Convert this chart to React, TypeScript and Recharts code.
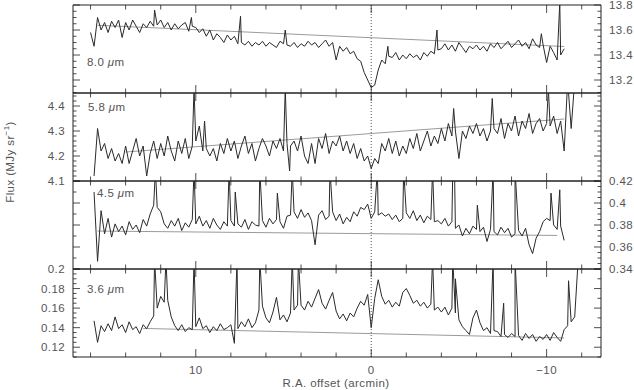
import React from 'react';
import { LineChart, Line, XAxis, YAxis, ReferenceLine } from 'recharts';

const FONT = '"Liberation Sans", Arial, sans-serif';
const INK = '#222';
const TXT = '#555';

// R.A. offset grid (arcmin), 16.0 down to -11.8
const offsets = [
  16.0, 15.8, 15.6, 15.4, 15.2, 15.0, 14.8, 14.6, 14.4, 14.2,
  14.0, 13.8, 13.6, 13.4, 13.2, 13.0, 12.8, 12.6, 12.4, 12.2,
  12.0, 11.8, 11.6, 11.4, 11.2, 11.0, 10.8, 10.6, 10.4, 10.2,
  10.0, 9.8, 9.6, 9.4, 9.2, 9.0, 8.8, 8.6, 8.4, 8.2,
  8.0, 7.8, 7.6, 7.4, 7.2, 7.0, 6.8, 6.6, 6.4, 6.2,
  6.0, 5.8, 5.6, 5.4, 5.2, 5.0, 4.8, 4.6, 4.4, 4.2,
  4.0, 3.8, 3.6, 3.4, 3.2, 3.0, 2.8, 2.6, 2.4, 2.2,
  2.0, 1.8, 1.6, 1.4, 1.2, 1.0, 0.8, 0.6, 0.4, 0.2,
  0.0, -0.2, -0.4, -0.6, -0.8, -1.0, -1.2, -1.4, -1.6, -1.8,
  -2.0, -2.2, -2.4, -2.6, -2.8, -3.0, -3.2, -3.4, -3.6, -3.8,
  -4.0, -4.2, -4.4, -4.6, -4.8, -5.0, -5.2, -5.4, -5.6, -5.8,
  -6.0, -6.2, -6.4, -6.6, -6.8, -7.0, -7.2, -7.4, -7.6, -7.8,
  -8.0, -8.2, -8.4, -8.6, -8.8, -9.0, -9.2, -9.4, -9.6, -9.8,
  -10.0, -10.2, -10.4, -10.6, -10.8, -11.0, -11.2, -11.4, -11.6, -11.8,
];

// 8.0 um
const flux80 = [
  13.58, 13.47, 13.70, 13.60, 13.66, 13.58, 13.67, 13.62, 13.68, 13.54,
  13.66, 13.60, 13.68, 13.63, 13.58, 13.65, 13.62, 13.67, 13.63, 13.64,
  13.68, 13.62, 13.66, 13.60, 13.65, 13.61, 13.64, 13.66, 13.59, 13.63,
  13.62, 13.58, 13.61, 13.55, 13.60, 13.52, 13.57, 13.54, 13.50, 13.56,
  13.52, 13.55, 13.49, 13.50, 13.48, 13.51, 13.47, 13.50, 13.48, 13.51,
  13.47, 13.50, 13.48, 13.46, 13.51, 13.49, 13.48, 13.47, 13.50, 13.46,
  13.49, 13.47, 13.51, 13.48, 13.50, 13.46, 13.49, 13.52, 13.47, 13.50,
  13.36, 13.47, 13.43, 13.46, 13.41, 13.43, 13.37, 13.35, 13.26, 13.20,
  13.14, 13.16, 13.28, 13.36, 13.33, 13.39, 13.38, 13.42, 13.36, 13.40,
  13.37, 13.41, 13.38, 13.40, 13.36, 13.42, 13.39, 13.43, 13.41, 13.44,
  13.45, 13.49, 13.44, 13.48, 13.43, 13.50, 13.46, 13.42, 13.47, 13.45,
  13.48, 13.44, 13.47, 13.43, 13.49, 13.46, 13.50, 13.45, 13.48, 13.51,
  13.46, 13.49, 13.52, 13.47, 13.50, 13.45, 13.53, 13.48, 13.46, 13.48,
  13.34, 13.47, 13.42, 13.36, 13.40, 13.45, null, null, null, null,
];
const spikes80 = [
  [12.35, 13.76], [10.25, 13.7], [7.45, 13.71], [4.9, 13.6], [-0.95, 13.47],
  [-3.75, 13.6], [-9.7, 13.57], [-10.75, 13.82],
];

// 5.8 um
const flux58 = [
  null, 4.12, 4.31, 4.22, 4.25, 4.19, 4.23, 4.18, 4.21, 4.17,
  4.24, 4.17, 4.22, 4.27, 4.20, 4.24, 4.12, 4.21, 4.26, 4.19,
  4.25, 4.20, 4.28, 4.22, 4.18, 4.26, 4.21, 4.27, 4.19, 4.24,
  4.26, 4.32, 4.22, 4.23, 4.20, 4.23, 4.18, 4.25, 4.21, 4.27,
  4.22, 4.26, 4.19, 4.24, 4.28, 4.21, 4.25, 4.18, 4.23, 4.27,
  4.24, 4.20, 4.26, 4.23, 4.27, 4.22, 4.25, 4.24, 4.26, 4.22,
  4.28, 4.20, 4.17, 4.25, 4.17, 4.27, 4.23, 4.29, 4.21, 4.26,
  4.24, 4.28, 4.22, 4.26, 4.21, 4.25, 4.19, 4.23, 4.18, 4.20,
  4.15, 4.19, 4.17, 4.25, 4.22, 4.27, 4.21, 4.26, 4.20, 4.24,
  4.21, 4.27, 4.23, 4.29, 4.22, 4.26, 4.30, 4.24, 4.28, 4.25,
  4.31, 4.26, 4.33, 4.28, 4.30, 4.19, 4.30, 4.27, 4.32, 4.29,
  4.33, 4.28, 4.31, 4.26, 4.30, 4.31, 4.29, 4.35, 4.27, 4.33,
  4.30, 4.36, 4.28, 4.34, 4.31, 4.37, 4.29, 4.33, 4.35, 4.30,
  4.33, 4.32, 4.36, 4.29, 4.34, 4.22, 4.50, 4.31, 4.50, 4.52,
];
const spikes58 = [
  [10.1, 4.47], [9.5, 4.34], [4.9, 4.47], [4.65, 4.14], [-4.7, 4.39],
  [-6.9, 4.43], [-10.1, 4.47],
];

// 4.5 um
const flux45 = [
  null, 0.410, 0.347, 0.393, 0.372, 0.386, 0.369, 0.381, 0.374, 0.379,
  0.371, 0.383, 0.376, 0.380, 0.373, 0.385, 0.379, 0.390, 0.398, 0.396,
  0.392, 0.381, 0.377, 0.384, 0.379, 0.386, 0.375, 0.382, 0.378, 0.385,
  0.381, 0.388, 0.379, 0.384, 0.377, 0.386, 0.380, 0.376, 0.383, 0.379,
  0.384, 0.379, 0.381, 0.378, 0.385, 0.376, 0.383, 0.380, 0.379, 0.384,
  0.378, 0.386, 0.381, 0.385, 0.383, 0.377, 0.388, 0.389, 0.392, 0.386,
  0.394, 0.387, 0.391, 0.384, 0.362, 0.389, 0.393, 0.385, 0.388, 0.392,
  0.384, 0.390, 0.381, 0.387, 0.383, 0.392, 0.388, 0.396, 0.394, 0.399,
  0.386, 0.392, 0.389, 0.391, 0.388, 0.390, 0.385, 0.389, 0.383, 0.386,
  0.391, 0.386, 0.393, 0.384, 0.389, 0.382, 0.388, 0.385, 0.383, 0.384,
  0.381, 0.386, 0.379, 0.383, 0.377, 0.380, 0.370, 0.377, 0.372, 0.379,
  0.376, 0.374, 0.378, 0.365, 0.376, 0.374, 0.371, 0.378, 0.373, 0.377,
  0.369, 0.372, 0.375, 0.370, 0.377, 0.362, 0.354, 0.368, 0.374, 0.383,
  0.386, 0.384, 0.380, 0.376, 0.379, 0.366, null, null, null, null,
];
const spikes45 = [
  [12.3, 0.43], [10.1, 0.43], [8.1, 0.43], [7.75, 0.41], [6.35, 0.43],
  [5.35, 0.409], [4.5, 0.43], [2.35, 0.43], [-0.35, 0.43], [-1.85, 0.43],
  [-3.5, 0.43], [-4.65, 0.43], [-4.75, 0.43], [-6.05, 0.398], [-6.95, 0.43],
  [-8.2, 0.43], [-10.25, 0.409], [-10.75, 0.412],
];

// 3.6 um
const flux36 = [
  null, 0.147, 0.125, 0.142, 0.136, 0.144, 0.137, 0.151, 0.139, 0.143,
  0.135, 0.146, 0.138, 0.141, 0.134, 0.143, 0.139, 0.146, 0.152, 0.160,
  0.172, 0.166, 0.168, 0.151, 0.142, 0.137, 0.143, 0.136, 0.140, 0.138,
  0.141, 0.150, 0.139, 0.142, 0.135, 0.141, 0.137, 0.144, 0.138, 0.140,
  0.143, 0.124, 0.139, 0.146, 0.141, 0.149, 0.140, 0.145, 0.158, 0.162,
  0.150, 0.145, 0.156, 0.171, 0.148, 0.153, 0.146, 0.155, 0.158, 0.163,
  0.163, 0.158, 0.167, 0.161, 0.170, 0.179, 0.165, 0.159, 0.168, 0.176,
  0.157, 0.149, 0.154, 0.147, 0.155, 0.151, 0.160, 0.167, 0.163, 0.174,
  0.140, 0.170, 0.189, 0.172, 0.164, 0.168, 0.161, 0.166, 0.162, 0.176,
  0.180, 0.173, 0.165, 0.168, 0.162, 0.166, 0.160, 0.164, 0.158, 0.161,
  0.156, 0.161, 0.153, 0.160, 0.155, 0.148, 0.141, 0.137, 0.133, 0.150,
  0.158, 0.145, 0.137, 0.140, 0.134, 0.137, 0.136, 0.131, 0.133, 0.130,
  0.134, 0.131, 0.132, 0.127, 0.134, 0.129, 0.133, 0.126, 0.131, 0.128,
  0.133, 0.127, 0.135, 0.130, 0.126, 0.138, 0.142, 0.146, 0.151, 0.210,
];
const spikes36 = [
  [12.35, 0.21], [11.7, 0.21], [10.1, 0.21], [7.65, 0.21], [6.35, 0.21],
  [4.5, 0.21], [4.15, 0.21], [-3.5, 0.21], [-4.65, 0.21], [-4.8, 0.19],
  [-6.95, 0.21], [-7.55, 0.165], [-8.2, 0.21], [-11.25, 0.188],
];

// fitted background lines: [start offset, end offset] and [start flux, end flux]
const base80 = { o: [15.6, -11.0], v: [13.638, 13.468] };
const base58 = { o: [14.0, -11.0], v: [4.216, 4.348] };
const base45 = { o: [15.6, -10.6], v: [0.3745, 0.3705] };
const base36 = { o: [13.0, -11.0], v: [0.1392, 0.1295] };

const raTicks = [16, 14, 12, 10, 8, 6, 4, 2, 0, -2, -4, -6, -8, -10, -12];
const raLabelled = [10, 0, -10];

const ticks80 = [13.2, 13.4, 13.6, 13.8];
const ticks58 = [4.1, 4.2, 4.3, 4.4];
const ticks45 = [0.34, 0.36, 0.38, 0.4, 0.42];
const ticks36 = [0.12, 0.14, 0.16, 0.18, 0.2];

const steps = (lo: number, hi: number, st: number) =>
  Array.from({ length: Math.round((hi - lo) / st) + 1 }, (_, i) => +(lo + i * st).toFixed(4));

const near = (arr: number[], v: number) => arr.find((m) => Math.abs(m - v) < 1e-7);

const txtStyle = { fontFamily: FONT, fontSize: 11.5, fill: TXT, letterSpacing: 0.4 };

function yTick(side: 'left' | 'right', majors: number[], labelled: boolean) {
  return (p: any) => {
    const { x, y, payload } = p;
    const m = near(majors, payload.value);
    const d = side === 'left' ? 1 : -1;
    return (
      <g>
        <line x1={x} x2={x + d * (m !== undefined ? 7 : 3.5)} y1={y} y2={y} stroke={INK} strokeWidth={0.8} />
        {labelled && m !== undefined && (
          <text x={x - d * 8} y={y} dy="0.36em" textAnchor={side === 'left' ? 'end' : 'start'} style={txtStyle}>
            {String(m)}
          </text>
        )}
      </g>
    );
  };
}

function xTick(side: 'top' | 'bottom', labelled: boolean) {
  return (p: any) => {
    const { x, y, payload } = p;
    const v = payload.value;
    const major = v % 10 === 0;
    const d = side === 'top' ? 1 : -1;
    return (
      <g>
        <line x1={x} x2={x} y1={y} y2={y + d * (major ? 8 : 4.5)} stroke={INK} strokeWidth={0.8} />
        {labelled && raLabelled.includes(v) && (
          <text x={x} y={y + 17} textAnchor="middle" style={txtStyle}>
            {v < 0 ? '\u2212' + Math.abs(v) : String(v)}
          </text>
        )}
      </g>
    );
  };
}

type PanelProps = {
  top: number;
  values: (number | null)[];
  spikes: number[][];
  base: { o: number[]; v: number[] };
  domain: [number, number];
  majors: number[];
  minorLeft: number[];
  minorRight: number[];
  labelSide: 'left' | 'right';
  last?: boolean;
};

const W = 634;
const PLOT_H = 88;
const PAD = 10;
const PLOT_L = 73;
const PLOT_R = 601;

function Panel({ top, values, spikes, base, domain, majors, minorLeft, minorRight, labelSide, last }: PanelProps) {
  const data = [
    ...offsets.map((o, i) => ({ o, v: values[i] })),
    ...spikes.map(([o, v]) => ({ o, v })),
  ].sort((a, b) => b.o - a.o);
  const baseData = base.o.map((o, i) => ({ o, b: base.v[i] }));
  const padB = last ? 26 : PAD;
  // every axis is 1px thick, so margins are one pixel short of the plot edges
  return (
    <div style={{ position: 'absolute', left: 0, top: top - PAD }}>
      <LineChart
        width={W}
        height={PLOT_H + PAD + padB}
        data={data}
        margin={{ top: PAD - 1, bottom: padB - 1, left: PLOT_L - 1, right: W - PLOT_R - 1 }}
      >
        <XAxis
          xAxisId="b"
          dataKey="o"
          type="number"
          orientation="bottom"
          domain={[-13.1, 17.0]}
          reversed
          allowDataOverflow
          ticks={raTicks}
          interval={0}
          height={1}
          tickSize={0}
          tickMargin={0}
          tickLine={false}
          axisLine={{ stroke: INK }}
          tick={xTick('bottom', !!last)}
        />
        <XAxis
          xAxisId="t"
          dataKey="o"
          type="number"
          orientation="top"
          domain={[-13.1, 17.0]}
          reversed
          allowDataOverflow
          ticks={raTicks}
          interval={0}
          height={1}
          tickSize={0}
          tickMargin={0}
          tickLine={false}
          axisLine={{ stroke: INK }}
          tick={xTick('top', false)}
        />
        <YAxis
          yAxisId="l"
          orientation="left"
          type="number"
          domain={domain}
          allowDataOverflow
          ticks={minorLeft}
          interval={0}
          width={1}
          tickSize={0}
          tickMargin={0}
          tickLine={false}
          axisLine={{ stroke: INK }}
          tick={yTick('left', majors, labelSide === 'left')}
        />
        <YAxis
          yAxisId="r"
          orientation="right"
          type="number"
          domain={domain}
          allowDataOverflow
          ticks={minorRight}
          interval={0}
          width={1}
          tickSize={0}
          tickMargin={0}
          tickLine={false}
          axisLine={{ stroke: INK }}
          tick={yTick('right', majors, labelSide === 'right')}
        />
        <ReferenceLine xAxisId="b" yAxisId="l" x={0} stroke={INK} strokeWidth={0.8} strokeDasharray="1 2" />
        <Line
          xAxisId="b"
          yAxisId="l"
          data={baseData}
          dataKey="b"
          stroke="#9a9a9a"
          strokeWidth={1}
          dot={false}
          isAnimationActive={false}
        />
        <Line
          xAxisId="b"
          yAxisId="l"
          dataKey="v"
          stroke="#2a2a2a"
          strokeWidth={1}
          dot={false}
          isAnimationActive={false}
        />
      </LineChart>
    </div>
  );
}

export default function App() {
  return (
    <div style={{ position: 'absolute', left: 0, top: 0, width: W, height: 390, background: '#fff' }}>
      <Panel
        top={5}
        values={flux80}
        spikes={spikes80}
        base={base80}
        domain={[13.096, 13.8]}
        majors={ticks80}
        minorLeft={steps(13.1, 13.8, 0.05)}
        minorRight={steps(13.1, 13.8, 0.05)}
        labelSide="right"
      />
      <Panel
        top={93}
        values={flux58}
        spikes={spikes58}
        base={base58}
        domain={[4.1, 4.452]}
        majors={ticks58}
        minorLeft={steps(4.1, 4.44, 0.02)}
        minorRight={steps(4.1, 4.44, 0.02)}
        labelSide="left"
      />
      <Panel
        top={181}
        values={flux45}
        spikes={spikes45}
        base={base45}
        domain={[0.34, 0.42]}
        majors={ticks45}
        minorLeft={steps(0.34, 0.42, 0.01)}
        minorRight={steps(0.34, 0.42, 0.005)}
        labelSide="right"
      />
      <Panel
        top={269}
        values={flux36}
        spikes={spikes36}
        base={base36}
        domain={[0.11, 0.2]}
        majors={ticks36}
        minorLeft={steps(0.11, 0.2, 0.005)}
        minorRight={steps(0.11, 0.2, 0.01)}
        labelSide="left"
        last
      />
      <svg width={W} height={390} style={{ position: 'absolute', left: 0, top: 0, pointerEvents: 'none' }}>
        <text x={87} y={66} style={txtStyle}>8.0 <tspan fontStyle="italic">μ</tspan>m</text>
        <text x={88} y={111} style={txtStyle}>5.8 <tspan fontStyle="italic">μ</tspan>m</text>
        <text x={97} y={197} style={txtStyle}>4.5 <tspan fontStyle="italic">μ</tspan>m</text>
        <text x={87} y={293} style={txtStyle}>3.6 <tspan fontStyle="italic">μ</tspan>m</text>
        <text x={336} y={387} textAnchor="middle" style={txtStyle}>R.A. offset (arcmin)</text>
        <text transform="translate(14,162) rotate(-90)" textAnchor="middle" style={txtStyle}>
          Flux (MJy sr<tspan dy={-5} fontSize={8}>−1</tspan><tspan dy={5}>)</tspan>
        </text>
      </svg>
    </div>
  );
}
